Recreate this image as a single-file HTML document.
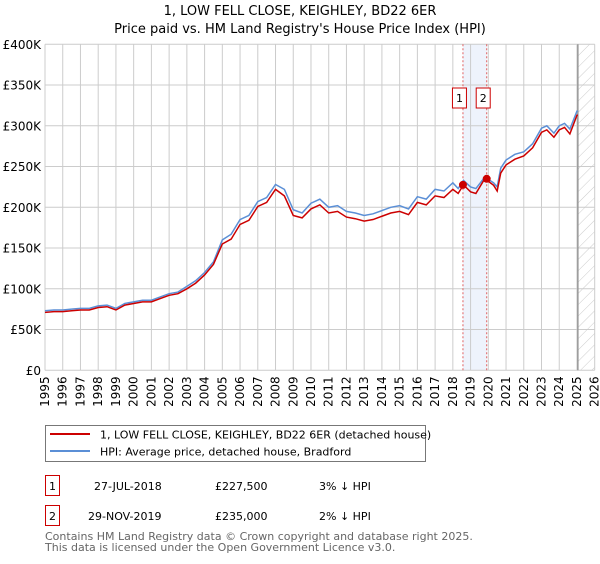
<!DOCTYPE html>
<html><head><meta charset="utf-8"><style>
body{margin:0;background:#fff;width:600px;height:560px;overflow:hidden;font-family:"DejaVu Sans","Liberation Sans",sans-serif;}
</style></head><body>
<svg id="chart" width="600" height="560" xmlns="http://www.w3.org/2000/svg" font-family="DejaVu Sans, Liberation Sans, sans-serif">
<defs><pattern id="hatch" width="8" height="8" patternUnits="userSpaceOnUse" patternTransform="rotate(45)"><line x1="0" y1="0" x2="0" y2="8" stroke="#ccc" stroke-width="1"/></pattern></defs>
<text x="300" y="15" text-anchor="middle" font-size="13">1, LOW FELL CLOSE, KEIGHLEY, BD22 6ER</text>
<text x="300" y="33" text-anchor="middle" font-size="13">Price paid vs. HM Land Registry's House Price Index (HPI)</text>
<g id="grid"></g><g id="marks"></g><g id="axes"></g>
<rect x="45.5" y="425.5" width="380" height="36" fill="#fff" stroke="#777"/>
<line x1="50" y1="434" x2="90" y2="434" stroke="#cc0000" stroke-width="2"/>
<text x="100" y="438.5" font-size="11">1, LOW FELL CLOSE, KEIGHLEY, BD22 6ER (detached house)</text>
<line x1="50" y1="451" x2="90" y2="451" stroke="#5b8fd6" stroke-width="2"/>
<text x="100" y="455.5" font-size="11">HPI: Average price, detached house, Bradford</text>
<g font-size="11">
<rect x="45.5" y="475.5" width="14" height="20" fill="none" stroke="#cc0000"/>
<text x="52.5" y="490" text-anchor="middle">1</text>
<text x="94" y="490">27-JUL-2018</text><text x="215" y="490">£227,500</text><text x="319" y="490">3% ↓ HPI</text></g>
<g font-size="11">
<rect x="45.5" y="505.5" width="14" height="20" fill="none" stroke="#cc0000"/>
<text x="52.5" y="520" text-anchor="middle">2</text>
<text x="88" y="520">29-NOV-2019</text><text x="215" y="520">£235,000</text><text x="319" y="520">2% ↓ HPI</text></g>
<text x="45" y="540" font-size="11" fill="#666">Contains HM Land Registry data © Crown copyright and database right 2025.</text>
<text x="45" y="551" font-size="11" fill="#666">This data is licensed under the Open Government Licence v3.0.</text>
</svg>
<script>
const yearTicks=[1995,1996,1997,1998,1999,2000,2001,2002,2003,2004,2005,2006,2007,2008,2009,2010,2011,2012,2013,2014,2015,2016,2017,2018,2019,2020,2021,2022,2023,2024,2025,2026];
const priceTicks=[0,50000,100000,150000,200000,250000,300000,350000,400000];
const priceLabels=["£0","£50K","£100K","£150K","£200K","£250K","£300K","£350K","£400K"];
const dates=[1995,1995.5,1996,1996.5,1997,1997.5,1998,1998.5,1999,1999.5,2000,2000.5,2001,2001.5,2002,2002.5,2003,2003.5,2004,2004.5,2005,2005.5,2006,2006.5,2007,2007.5,2008,2008.5,2009,2009.5,2010,2010.5,2011,2011.5,2012,2012.5,2013,2013.5,2014,2014.5,2015,2015.5,2016,2016.5,2017,2017.5,2018,2018.3,2018.6,2019,2019.3,2019.8,2020.3,2020.5,2020.7,2021,2021.5,2022,2022.5,2023,2023.3,2023.7,2024,2024.3,2024.6,2025,2025.05];
const hpi=[73,74,74,75,76,76,79,80,76,82,84,86,86,90,94,96,103,110,120,133,160,167,185,190,207,212,228,222,197,193,205,210,200,202,195,193,190,192,196,200,202,198,213,210,222,220,230,223,233,225,223,237,230,225,248,258,265,268,278,297,300,291,300,303,296,318,318];
const property=[71,72,72,73,74,74,77,78,74,80,82,84,84,88,92,94,100,107,117,130,155,161,179,184,201,206,222,214,190,187,198,203,193,195,188,186,183,185,189,193,195,191,206,203,214,212,222,217,227.5,219,217,235,227,220,242,252,259,263,273,292,295,286,295,298,290,313,313];
const sales=[[2018.57,227500],[2019.91,235000]];
const X0=45,X1=594.7,Y0=370.3,Y1=44.3,YMIN=1995,YMAX=2026;
const xs=y=>X0+(y-YMIN)/(YMAX-YMIN)*(X1-X0);
const ys=v=>Y0-v/400000*(Y0-Y1);
const NS="http://www.w3.org/2000/svg";
function mk(tag,attrs,parent){const e=document.createElementNS(NS,tag);for(const k in attrs)e.setAttribute(k,attrs[k]);parent.appendChild(e);return e;}
const grid=document.getElementById('grid'),marks=document.getElementById('marks'),axes=document.getElementById('axes');
const band=mk('rect',{x:xs(sales[0][0]),y:Y1,width:xs(sales[1][0])-xs(sales[0][0]),height:Y0-Y1,fill:'#eef3fc'},grid);


yearTicks.forEach(y=>{
  const l=mk('line',{x1:xs(y),x2:xs(y),y1:Y1,y2:Y0,stroke:'#ccc'},grid);
  
  
  const t=mk('text',{x:0,y:0,'font-size':12,'text-anchor':'end',transform:`translate(${xs(y)+4},${Y0+6}) rotate(-90)`},axes);
  t.textContent=y;
  
  
});
priceTicks.forEach((v,i)=>{
  const l=mk('line',{x1:X0,x2:X1,y1:ys(v),y2:ys(v),stroke:'#ccc'},grid);
  
  
  const t=mk('text',{x:X0-4,y:ys(v)+4.5,'font-size':12,'text-anchor':'end'},axes);
  t.textContent=priceLabels[i];
  
  
});
const hx=xs(2025.05);
const hatch=mk('rect',{x:hx,y:Y1,width:X1-hx,height:Y0-Y1,fill:'url(#hatch)'},grid);


const hl=mk('line',{x1:hx,x2:hx,y1:Y1,y2:Y0,stroke:'#999','stroke-width':1.5},grid);


sales.forEach((s,i)=>{
  const l=mk('line',{x1:xs(s[0]),x2:xs(s[0]),y1:Y1,y2:Y0,stroke:'#e06060','stroke-dasharray':'2,2'},grid);
  
  
  const bx=xs(s[0])-3.5;
  const r=mk('rect',{x:bx-7,y:88,width:14,height:20,fill:'#fff',stroke:'#cc0000'},marks);
  
  
  const t=mk('text',{x:bx,y:102,'font-size':11,'text-anchor':'middle'},marks);
  t.textContent=String(i+1);
  
  
});
const hp=mk('polyline',{points:dates.map((d,i)=>xs(d)+','+ys(hpi[i]*1000)).join(' '),fill:'none',stroke:'#5b8fd6','stroke-width':1.5},marks);


const pp=mk('polyline',{points:dates.map((d,i)=>xs(d)+','+ys(property[i]*1000)).join(' '),fill:'none',stroke:'#cc0000','stroke-width':1.5},marks);


sales.forEach(s=>{
  const c=mk('circle',{cx:xs(s[0]),cy:ys(s[1]),r:4,fill:'#cc0000'},marks);
  
  
});
</script>
</body></html>
